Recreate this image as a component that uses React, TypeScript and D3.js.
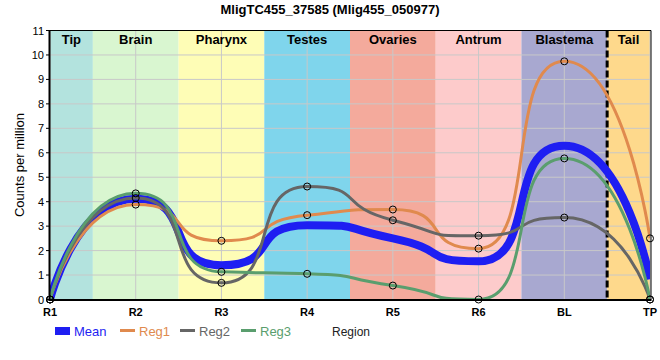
import React from "react";
import * as d3 from "d3";

const categories = ["R1", "R2", "R3", "R4", "R5", "R6", "BL", "TP"];
const mean = [0, 4.12, 1.4, 3.04, 2.5, 1.56, 6.29, 0.83];
const reg1 = [0, 3.88, 2.4, 3.45, 3.68, 2.08, 9.74, 2.5];
const reg2 = [0, 4.15, 0.68, 4.62, 3.24, 2.61, 3.35, 0];
const reg3 = [0, 4.34, 1.13, 1.05, 0.57, 0, 5.77, 0];
const yTicks = [0, 1, 2, 3, 4, 5, 6, 7, 8, 9, 10, 11];
const regionNames = ["Tip", "Brain", "Pharynx", "Testes", "Ovaries", "Antrum", "Blastema", "Tail"];
const regionStarts = [0, 0.5, 1.5, 2.5, 3.5, 4.5, 5.5, 6.5];
const regionEnds = [0.5, 1.5, 2.5, 3.5, 4.5, 5.5, 6.5, 7];
const regionColors = ["#b3e3de", "#d9f6d0", "#fefdb6", "#7fd5ec", "#f4aa9c", "#fdcbcb", "#a8a8d0", "#fed98c"];
const eventX = 6.5;

const seriesNames = ["Mean", "Reg1", "Reg2", "Reg3"];
const seriesColors = ["#1e1ef2", "#e08a4e", "#666666", "#5a9e6e"];
const seriesWidths = [8, 3, 3, 3];
const seriesData = [mean, reg1, reg2, reg3];

const W = 660;
const H = 360;
const FONT = "'Liberation Sans', Arial, sans-serif";
const SMOOTH = 0.7;

type P = [number, number];

function controlPoints(p0: P, p1: P, p2: P | undefined, alpha: number): (number | null)[] {
  if (!p2) return [p1[0], p1[1], null, null];
  let l1x = (1 - alpha) * p1[0] + alpha * p0[0];
  let l1y = (1 - alpha) * p1[1] + alpha * p0[1];
  let r1x = (1 - alpha) * p1[0] + alpha * p2[0];
  let r1y = (1 - alpha) * p1[1] + alpha * p2[1];
  if (l1x !== r1x) {
    const dy = p1[1] - r1y - ((p1[0] - r1x) * (l1y - r1y)) / (l1x - r1x);
    l1y += dy;
    r1y += dy;
  }
  if (l1y > p0[1] && l1y > p1[1]) {
    l1y = Math.max(p0[1], p1[1]);
    r1y = 2 * p1[1] - l1y;
  } else if (l1y < p0[1] && l1y < p1[1]) {
    l1y = Math.min(p0[1], p1[1]);
    r1y = 2 * p1[1] - l1y;
  }
  if (r1y > p1[1] && r1y > p2[1]) {
    r1y = Math.max(p1[1], p2[1]);
    l1y = 2 * p1[1] - r1y;
  } else if (r1y < p1[1] && r1y < p2[1]) {
    r1y = Math.min(p1[1], p2[1]);
    l1y = 2 * p1[1] - r1y;
  }
  return [l1x, l1y, r1x, r1y];
}

function smoothPath(pts: P[], alpha: number): string {
  const path = d3.path();
  path.moveTo(pts[0][0], pts[0][1]);
  let lx = pts[0][0];
  let ly = pts[0][1];
  for (let i = 1; i < pts.length; i++) {
    const c = controlPoints(pts[i - 1], pts[i], pts[i + 1], alpha);
    path.bezierCurveTo(lx, ly, c[0] as number, c[1] as number, pts[i][0], pts[i][1]);
    lx = c[2] as number;
    ly = c[3] as number;
  }
  return path.toString();
}

export default function App() {
  const x = d3.scaleLinear().domain([0, categories.length - 1]).range([50, 650]);
  const y = d3.scaleLinear().domain([0, 11]).range([299.5, 30.5]);
  const top = y(11);
  const bottom = y(0);

  return (
    <svg width={W} height={H} style={{ position: "absolute", left: 0, top: 0, background: "#fff" }} fontFamily={FONT}>
      <defs>
        <clipPath id="plotclip">
          <rect x={x(0)} y={top} width={x(7) - x(0)} height={bottom - top} />
        </clipPath>
      </defs>
      <text x={330} y={14} textAnchor="middle" fontWeight="bold" fontSize={13}>
        MligTC455_37585 (Mlig455_050977)
      </text>
      {regionNames.map((n, i) => (
        <rect key={n} x={x(regionStarts[i])} y={top} width={x(regionEnds[i]) - x(regionStarts[i])} height={bottom - top} fill={regionColors[i]} />
      ))}
      {yTicks.map((t) => (
        <line key={"gy" + t} x1={x(0)} x2={x(7)} y1={y(t)} y2={y(t)} stroke="#c8c8c8" strokeWidth={1} />
      ))}
      {categories.map((c, i) => (
        <line key={"gx" + c} x1={x(i)} x2={x(i)} y1={top} y2={bottom} stroke="#c8c8c8" strokeWidth={1} />
      ))}
      {regionNames.map((n, i) => (
        <text key={"rl" + n} x={(x(regionStarts[i]) + x(regionEnds[i])) / 2} y={44} textAnchor="middle" fontWeight="bold" fontSize={13}>
          {n}
        </text>
      ))}
      <line x1={x(eventX)} x2={x(eventX)} y1={top} y2={bottom} stroke="#000" strokeWidth={3} strokeDasharray="7,3" />
      <g clipPath="url(#plotclip)">
        {seriesData.map((d, si) => (
          <path
            key={"s" + si}
            d={smoothPath(d.map((v, i) => [x(i), y(v)] as P), SMOOTH)}
            fill="none"
            stroke={seriesColors[si]}
            strokeWidth={seriesWidths[si]}
            strokeLinejoin="round"
          />
        ))}
      </g>
      {seriesData.slice(1).map((d, si) =>
        d.map((v, i) => (
          <circle key={"c" + si + "-" + i} cx={x(i)} cy={y(v)} r={3.5} fill="none" stroke="#000" strokeWidth={1} />
        ))
      )}
      <line x1={x(0) - 0.5} x2={x(7) + 1} y1={top} y2={top} stroke="#000" strokeWidth={1} />
      <line x1={x(7) + 1} x2={x(7) + 1} y1={top} y2={bottom} stroke="#000" strokeWidth={1} />
      <line x1={x(0) - 0.5} x2={x(0) - 0.5} y1={top - 0.5} y2={bottom + 1} stroke="#000" strokeWidth={2} />
      <line x1={x(0) - 1.5} x2={x(7) + 1.5} y1={bottom + 0.5} y2={bottom + 0.5} stroke="#000" strokeWidth={2} />
      {yTicks.map((t) => (
        <g key={"yt" + t}>
          <line x1={x(0) - 4} x2={x(0)} y1={y(t)} y2={y(t)} stroke="#000" strokeWidth={1} />
          <text x={44} y={y(t) + 4} textAnchor="end" fontSize={11}>
            {t}
          </text>
        </g>
      ))}
      {categories.map((c, i) => (
        <text key={"xt" + c} x={x(i)} y={316} textAnchor="middle" fontSize={11} fontWeight="bold">
          {c}
        </text>
      ))}
      <text transform={`translate(24,${(top + bottom) / 2}) rotate(-90)`} textAnchor="middle" fontSize={13}>
        Counts per million
      </text>
      <rect x={55} y={327} width={15} height={8} fill={seriesColors[0]} />
      <text x={74} y={335.5} fontSize={13} fill={seriesColors[0]}>Mean</text>
      {[1, 2, 3].map((si, k) => {
        const lx = [120, 180, 241][k];
        return (
          <g key={"lg" + si}>
            <line x1={lx} x2={lx + 15} y1={330.5} y2={330.5} stroke={seriesColors[si]} strokeWidth={3} />
            <text x={lx + 19} y={335.5} fontSize={13} fill={seriesColors[si]}>
              {seriesNames[si]}
            </text>
          </g>
        );
      })}
      <text x={332} y={335.5} fontSize={12} fill="#222">Region</text>
    </svg>
  );
}
